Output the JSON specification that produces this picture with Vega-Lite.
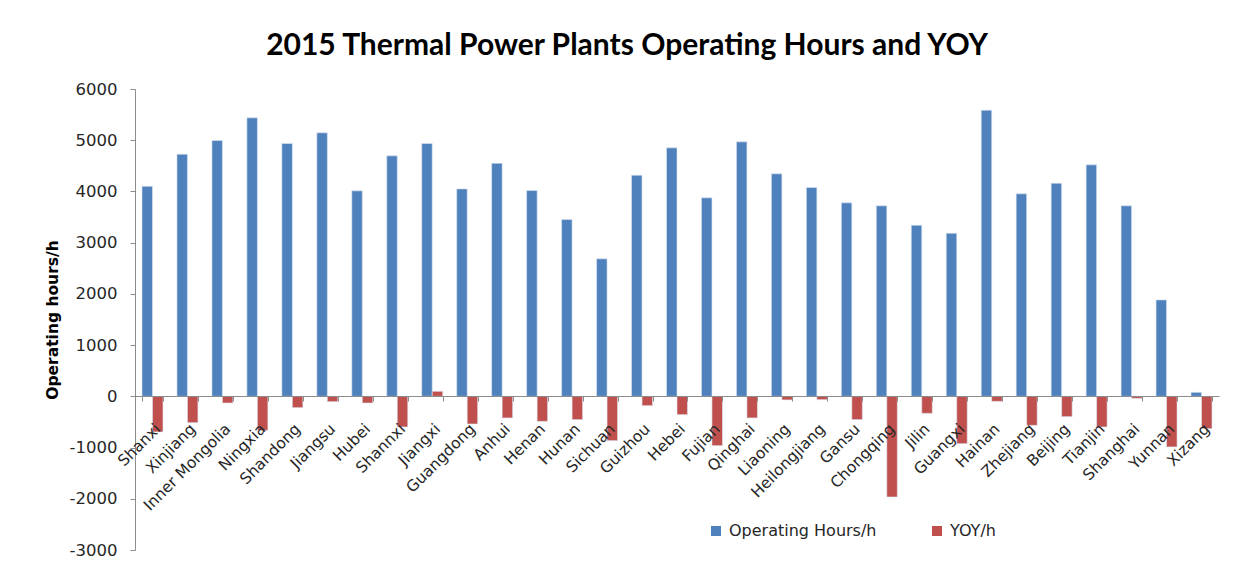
{
  "$schema": "https://vega.github.io/schema/vega-lite/v6.json",
  "width": 1084,
  "height": 461,
  "autosize": {"type": "none"},
  "padding": {"left": 135, "top": 89, "right": 29, "bottom": 19},
  "background": "white",
  "title": {
    "text": "2015 Thermal Power Plants Operating Hours and YOY",
    "font": "Lato",
    "fontWeight": "bold",
    "fontSize": 30,
    "color": "#000000",
    "anchor": "middle",
    "dx": -50,
    "offset": 20
  },
  "data": {
    "values": [
      {"province": "Shanxi", "series": "Operating Hours/h", "value": 4100},
      {"province": "Shanxi", "series": "YOY/h", "value": -695},
      {"province": "Xinjiang", "series": "Operating Hours/h", "value": 4727},
      {"province": "Xinjiang", "series": "YOY/h", "value": -514},
      {"province": "Inner Mongolia", "series": "Operating Hours/h", "value": 4994},
      {"province": "Inner Mongolia", "series": "YOY/h", "value": -130},
      {"province": "Ningxia", "series": "Operating Hours/h", "value": 5437},
      {"province": "Ningxia", "series": "YOY/h", "value": -664},
      {"province": "Shandong", "series": "Operating Hours/h", "value": 4935},
      {"province": "Shandong", "series": "YOY/h", "value": -221},
      {"province": "Jiangsu", "series": "Operating Hours/h", "value": 5144},
      {"province": "Jiangsu", "series": "YOY/h", "value": -104},
      {"province": "Hubei", "series": "Operating Hours/h", "value": 4012},
      {"province": "Hubei", "series": "YOY/h", "value": -130},
      {"province": "Shannxi", "series": "Operating Hours/h", "value": 4695},
      {"province": "Shannxi", "series": "YOY/h", "value": -598},
      {"province": "Jiangxi", "series": "Operating Hours/h", "value": 4935},
      {"province": "Jiangxi", "series": "YOY/h", "value": 98},
      {"province": "Guangdong", "series": "Operating Hours/h", "value": 4050},
      {"province": "Guangdong", "series": "YOY/h", "value": -540},
      {"province": "Anhui", "series": "Operating Hours/h", "value": 4550},
      {"province": "Anhui", "series": "YOY/h", "value": -422},
      {"province": "Henan", "series": "Operating Hours/h", "value": 4017},
      {"province": "Henan", "series": "YOY/h", "value": -488},
      {"province": "Hunan", "series": "Operating Hours/h", "value": 3451},
      {"province": "Hunan", "series": "YOY/h", "value": -455},
      {"province": "Sichuan", "series": "Operating Hours/h", "value": 2684},
      {"province": "Sichuan", "series": "YOY/h", "value": -865},
      {"province": "Guizhou", "series": "Operating Hours/h", "value": 4316},
      {"province": "Guizhou", "series": "YOY/h", "value": -182},
      {"province": "Hebei", "series": "Operating Hours/h", "value": 4851},
      {"province": "Hebei", "series": "YOY/h", "value": -357},
      {"province": "Fujian", "series": "Operating Hours/h", "value": 3875},
      {"province": "Fujian", "series": "YOY/h", "value": -963},
      {"province": "Qinghai", "series": "Operating Hours/h", "value": 4968},
      {"province": "Qinghai", "series": "YOY/h", "value": -422},
      {"province": "Liaoning", "series": "Operating Hours/h", "value": 4344},
      {"province": "Liaoning", "series": "YOY/h", "value": -70},
      {"province": "Heilongjiang", "series": "Operating Hours/h", "value": 4076},
      {"province": "Heilongjiang", "series": "YOY/h", "value": -65},
      {"province": "Gansu", "series": "Operating Hours/h", "value": 3777},
      {"province": "Gansu", "series": "YOY/h", "value": -455},
      {"province": "Chongqing", "series": "Operating Hours/h", "value": 3719},
      {"province": "Chongqing", "series": "YOY/h", "value": -1965},
      {"province": "Jilin", "series": "Operating Hours/h", "value": 3340},
      {"province": "Jilin", "series": "YOY/h", "value": -332},
      {"province": "Guangxi", "series": "Operating Hours/h", "value": 3184},
      {"province": "Guangxi", "series": "YOY/h", "value": -924},
      {"province": "Hainan", "series": "Operating Hours/h", "value": 5586},
      {"province": "Hainan", "series": "YOY/h", "value": -98},
      {"province": "Zhejiang", "series": "Operating Hours/h", "value": 3953},
      {"province": "Zhejiang", "series": "YOY/h", "value": -566},
      {"province": "Beijing", "series": "Operating Hours/h", "value": 4160},
      {"province": "Beijing", "series": "YOY/h", "value": -397},
      {"province": "Tianjin", "series": "Operating Hours/h", "value": 4519},
      {"province": "Tianjin", "series": "YOY/h", "value": -598},
      {"province": "Shanghai", "series": "Operating Hours/h", "value": 3719},
      {"province": "Shanghai", "series": "YOY/h", "value": -39},
      {"province": "Yunnan", "series": "Operating Hours/h", "value": 1883},
      {"province": "Yunnan", "series": "YOY/h", "value": -988},
      {"province": "Xizang", "series": "Operating Hours/h", "value": 78},
      {"province": "Xizang", "series": "YOY/h", "value": -631}
    ]
  },
  "mark": {"type": "bar", "stroke": "#dbe5f1", "strokeWidth": 0.6},
  "encoding": {
    "x": {
      "field": "province",
      "type": "nominal",
      "sort": null,
      "scale": {"paddingInner": 0.4, "paddingOuter": 0.2},
      "axis": {
        "title": null,
        "offset": -154,
        "labelAngle": -45,
        "labelFont": "DejaVu Sans",
        "labelFontSize": 15.5,
        "labelColor": "#262626",
        "labelPadding": 20,
        "labelDx": -4,
        "tickBand": "extent",
        "tickSize": 5,
        "tickColor": "#8c8c8c",
        "domainColor": "#8c8c8c",
        "labelOverlap": false,
        "zindex": 1
      }
    },
    "xOffset": {"field": "series", "type": "nominal", "sort": ["Operating Hours/h", "YOY/h"]},
    "y": {
      "field": "value",
      "type": "quantitative",
      "scale": {"domain": [-3000, 6000], "nice": false},
      "axis": {
        "title": "Operating hours/h",
        "titleFont": "DejaVu Sans",
        "titleFontSize": 15.5,
        "titleFontWeight": "bold",
        "titleColor": "#000000",
        "titlePadding": 9,
        "values": [-3000, -2000, -1000, 0, 1000, 2000, 3000, 4000, 5000, 6000],
        "labelExpr": "'' + datum.value",
        "labelFont": "DejaVu Sans",
        "labelFontSize": 16.5,
        "labelColor": "#262626",
        "labelPadding": 13,
        "grid": false,
        "tickSize": 5,
        "tickColor": "#8c8c8c",
        "domainColor": "#8c8c8c"
      }
    },
    "color": {
      "field": "series",
      "type": "nominal",
      "scale": {"domain": ["Operating Hours/h", "YOY/h"], "range": ["#4f81bd", "#c0504d"]},
      "legend": {
        "title": null,
        "orient": "none",
        "legendX": 573,
        "legendY": 434,
        "direction": "horizontal",
        "symbolType": "square",
        "symbolSize": 100,
        "symbolStrokeWidth": 0,
        "labelFont": "DejaVu Sans",
        "labelFontSize": 16,
        "labelColor": "#262626",
        "columnPadding": 52,
        "labelOffset": 5
      }
    }
  },
  "config": {"view": {"stroke": null}}
}
